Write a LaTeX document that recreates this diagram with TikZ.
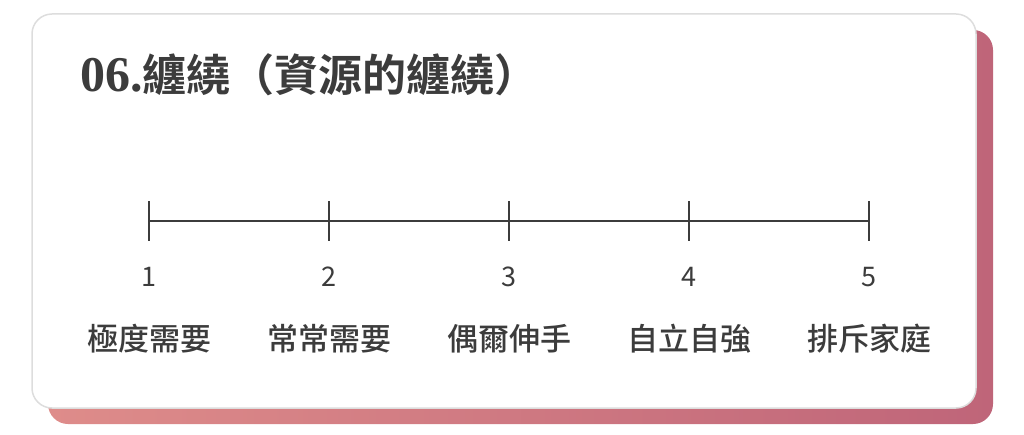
\documentclass[tikz,border=0pt]{standalone}
\usepackage{fontspec}
\newfontfamily\cjkbold{Noto Sans CJK TC Bold}
\newfontfamily\cjkreg{Noto Sans CJK TC}
\newfontfamily\cjkmed{Noto Sans CJK TC Medium}
\newfontfamily\serifbold{Liberation Serif}[BoldFont={* Bold}]
\definecolor{ink}{HTML}{3C3C3C}
\definecolor{shadeL}{HTML}{DE8C8A}
\definecolor{shadeR}{HTML}{BF6579}
\definecolor{cardline}{HTML}{DDDDDD}
\tikzset{
  axisline/.style={draw=ink, line width=2pt},
  tickmark/.style={draw=ink, line width=2pt},
  numlabel/.style={text=ink, font=\cjkreg\fontsize{27}{30}\selectfont, inner sep=0pt},
  steplabel/.style={text=ink, font=\cjkmed\fontsize{31}{34}\selectfont, inner sep=0pt},
  titletext/.style={text=ink, inner sep=0pt, anchor=base west}
}
\begin{document}
\begin{tikzpicture}[x=1pt,y=-1pt]
\useasboundingbox (0,0) rectangle (1024,435);
% shadow card
\shade[left color=shadeL, right color=shadeR, rounded corners=20pt] (48,30) rectangle (993,424);
% main card
\filldraw[fill=white, draw=cardline, line width=1.5pt, rounded corners=20pt] (32,14) rectangle (976,408);
% title
\node[titletext] (title) at (80,92) {{\serifbold\bfseries\fontsize{50}{54}\selectfont 06.}{\cjkbold\fontsize{44}{47}\selectfont 纏繞（資源的纏繞）}};
% axis
\coordinate (p1) at (149,221);
\coordinate (p2) at (329,221);
\coordinate (p3) at (509,221);
\coordinate (p4) at (689,221);
\coordinate (p5) at (869,221);
\draw[axisline] (p1) -- (p5);
\foreach \i in {1,...,5}{
  \draw[tickmark] ([yshift=-20pt]p\i) -- ([yshift=20pt]p\i);
}
\foreach \i/\lab in {1/極度需要,2/常常需要,3/偶爾伸手,4/自立自強,5/排斥家庭}{
  \node[numlabel] (n\i) at ([yshift=-56pt]p\i) {\i};
  \node[steplabel] (l\i) at ([yshift=-118pt]p\i) {\lab};
}
\end{tikzpicture}
\end{document}
